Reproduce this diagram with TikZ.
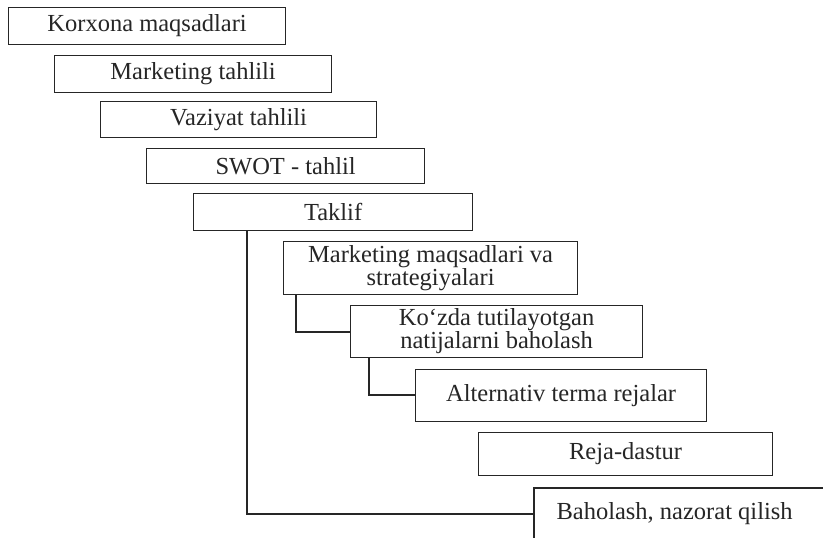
\documentclass[tikz,border=0pt]{standalone}
\usepackage{fontspec}
\setmainfont{Liberation Serif}
\begin{document}
\begin{tikzpicture}[x=1pt,y=-1pt,
  stage/.style={draw=ink, line width=1.2pt, fill=white, inner sep=0pt,
    anchor=north west, align=center, text=ink,
    font=\fontsize{24.5}{23}\selectfont},
  link/.style={draw=ink, line width=1.2pt}]
\definecolor{ink}{HTML}{262626}
\useasboundingbox (0,0) rectangle (823,538);
\clip (0,0) rectangle (823,538);
\fill[white] (0,0) rectangle (823,538);

% stepped planning stages
\node[stage, minimum width=277, minimum height=37] (k1) at (8,7) {Korxona maqsadlari};
\node[stage, minimum width=277, minimum height=37] (k2) at (54,55) {Marketing tahlili};
\node[stage, minimum width=276, minimum height=36] (k3) at (100,101) {Vaziyat tahlili};
\node[stage, minimum width=278, minimum height=35] (k4) at (146,148) {SWOT - tahlil};
\node[stage, minimum width=279, minimum height=37] (k5) at (193,193) {Taklif};
\node[stage, minimum width=294, minimum height=53] (k6) at (283,241) {Marketing maqsadlari va\\strategiyalari};
\node[stage, minimum width=292, minimum height=52] (k7) at (350,305) {Ko‘zda tutilayotgan\\natijalarni baholash};
\node[stage, minimum width=291, minimum height=52] (k8) at (415,369) {Alternativ terma rejalar};
\node[stage, minimum width=294, minimum height=43] (k9) at (478,432) {Reja-dastur};
\node[stage, draw=none, minimum width=280, minimum height=50] (k10) at (534,488) {Baholash, nazorat qilish};
% the last stage runs off the page edge
\draw[link] (k10.south west) -- (k10.north west) -- ++(320,0);

% feedback connectors
\coordinate (c5) at (247,0);
\coordinate (c6) at (296,0);
\coordinate (c7) at (369,0);
\draw[link] (k5.south -| c5) |- (k10.west |- 0,514);
\draw[link] (k6.south -| c6) |- (k7.west |- 0,332);
\draw[link] (k7.south -| c7) |- (k8.west |- 0,395);
\end{tikzpicture}
\end{document}
